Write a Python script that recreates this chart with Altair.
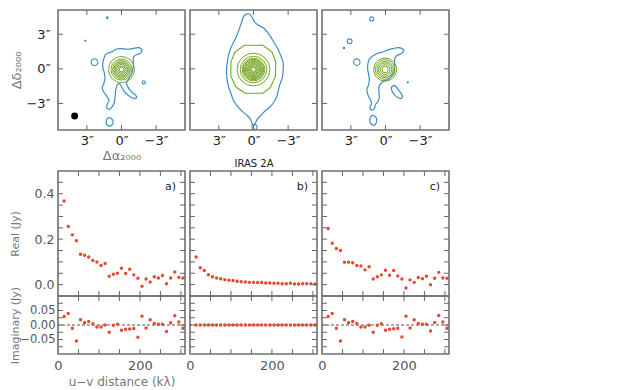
import altair as alt
import pandas as pd

# ---------------- colours / fonts ----------------
BLUE = "#3a8dc8"
GREEN = "#74a422"
RED = "#e24a33"
FRAME = "#707070"
TICK = "#666666"
FONT = "DejaVu Sans"

# ---------------- top row: maps (offsets in arcsec: dRA, dDec) ----------------
A_OUTLINE = [(1.61, 0.53), (1.37, 1.26), (0.79, 1.49), (0.50, 1.70), (0.06, 1.75), (-0.53, 1.70),
             (-0.96, 1.75), (-1.40, 1.84), (-1.70, 1.75), (-1.70, 1.40), (-1.40, 1.26), (-1.11, 1.11),
             (-1.02, 0.82), (-1.02, 0.23), (-0.91, -0.35), (-0.67, -0.79), (-0.44, -1.17), (-0.53, -1.52),
             (-0.82, -1.96), (-1.20, -2.25), (-1.32, -2.46), (-1.11, -2.57), (-0.82, -2.46), (-0.53, -2.25),
             (-0.23, -1.96), (-0.03, -1.58), (0.15, -1.29), (0.35, -1.37), (0.50, -1.81), (0.56, -2.46),
             (0.64, -2.98), (0.85, -3.33), (1.08, -3.51), (1.29, -3.36), (1.23, -3.07), (1.08, -2.75),
             (1.23, -2.46), (1.43, -2.16), (1.61, -1.87), (1.67, -1.58), (1.52, -1.23), (1.43, -0.79),
             (1.49, -0.35), (1.61, 0.09)]
A_BLOB = [(1.02, -4.24), (0.79, -4.39), (0.73, -4.65), (0.88, -4.91), (1.14, -4.94), (1.32, -4.74),
          (1.29, -4.42), (1.17, -4.27)]
A_SPOTS = [(2.34, 0.58, 0.29), (-1.93, -1.17, 0.14), (1.23, 4.42, 0.08), (3.13, 2.43, 0.05)]
A_BEAM = [(4.06, -4.09, 0.30)]
A_RING_CENTER = (0.0, -0.06)
A_RING_RADII = [1.13, 0.91, 0.77, 0.66, 0.56, 0.44, 0.32, 0.20]

B_OUTLINE = [(0.85, 4.56), (0.56, 4.77), (0.26, 4.68), (0.06, 4.33), (-0.15, 3.98), (-0.53, 3.74),
             (-0.96, 3.45), (-1.40, 2.92), (-1.78, 2.28), (-2.13, 1.70), (-2.37, 1.11), (-2.57, 0.53),
             (-2.57, -0.20), (-2.49, -0.79), (-2.28, -1.37), (-2.13, -1.96), (-1.99, -2.46), (-1.70, -2.98),
             (-1.40, -3.33), (-1.02, -3.63), (-0.67, -4.01), (-0.38, -4.30), (-0.18, -4.65), (-0.03, -4.88),
             (0.15, -4.68), (0.26, -4.39), (0.50, -4.09), (0.94, -3.71), (1.37, -3.27), (1.73, -2.75),
             (1.96, -2.11), (2.19, -1.46), (2.31, -0.79), (2.34, -0.06), (2.25, 0.67), (2.11, 1.40),
             (1.81, 2.13), (1.52, 2.72), (1.29, 3.30), (1.08, 3.89)]
B_SPOTS = [(-0.09, -5.03, 0.22)]
B_OCTAGON = [(0.79, 2.05), (-0.82, 2.05), (-1.61, 1.46), (-1.93, 0.58), (-1.90, -0.64), (-1.49, -1.58),
             (-0.82, -2.11), (0.73, -2.11), (1.52, -1.58), (1.96, -0.64), (1.96, 0.58), (1.61, 1.46)]
B_RING_CENTER = (0.0, -0.06)
B_RING_RADII = [1.42, 1.15, 0.98, 0.88, 0.79, 0.70, 0.61, 0.52, 0.43, 0.34, 0.25, 0.16]

C_OUTLINE = [(1.40, 0.82), (1.11, 1.11), (0.67, 1.35), (0.23, 1.46), (-0.20, 1.64), (-0.64, 1.75),
             (-1.08, 1.84), (-1.46, 1.75), (-1.58, 1.55), (-1.37, 1.32), (-0.94, 1.11), (-0.79, 0.82),
             (-0.79, 0.23), (-0.70, -0.35), (-0.50, -0.64), (-0.20, -0.94), (0.23, -1.11), (0.53, -1.46),
             (0.58, -1.96), (0.53, -2.46), (0.67, -2.84), (0.88, -3.13), (0.96, -3.42), (1.20, -3.57),
             (1.35, -3.33), (1.20, -2.98), (1.35, -2.63), (1.52, -2.25), (1.61, -1.81), (1.46, -1.37),
             (1.40, -0.94), (1.46, -0.50), (1.55, 0.00), (1.52, 0.47)]
C_BLOB_1 = [(-0.53, -1.58), (-0.79, -1.46), (-1.08, -1.75), (-1.37, -2.16), (-1.46, -2.46), (-1.23, -2.57),
            (-0.88, -2.34), (-0.58, -1.96)]
C_BLOB_2 = [(1.05, -4.04), (0.82, -4.21), (0.76, -4.50), (0.88, -4.82), (1.11, -4.88), (1.32, -4.68),
            (1.35, -4.33), (1.23, -4.09)]
C_SPOTS = [(2.49, 0.58, 0.28), (3.10, 2.40, 0.20), (3.60, 1.81, 0.06), (1.20, 4.33, 0.17), (-1.93, -1.17, 0.05)]
C_RING_CENTER = (0.03, -0.06)
C_RING_RADII = [1.00, 0.85, 0.70, 0.57, 0.42, 0.28]

MAP_TICKS = [-3, 0, 3]

# ---------------- bottom rows: visibilities ----------------
UV_DIST = [15, 25, 35, 45, 55, 65, 75, 85, 95, 105, 115, 125, 135, 145, 155, 165, 175, 185, 195, 205,
           215, 225, 235, 245, 255, 265, 275, 285, 295, 305]
REAL_A = [0.368, 0.256, 0.219, 0.193, 0.134, 0.129, 0.122, 0.106, 0.100, 0.084, 0.093, 0.037, 0.046, 0.050,
          0.072, 0.049, 0.068, 0.043, 0.028, -0.007, 0.025, 0.012, 0.035, 0.029, 0.040, 0.004, 0.029, 0.056,
          0.032, 0.029]
IMAG_A = [0.029, 0.040, -0.011, -0.055, 0.018, 0.008, 0.012, 0.004, -0.007, -0.007, 0.000, -0.025, -0.001,
          0.003, -0.018, -0.015, -0.014, -0.012, -0.042, 0.030, -0.010, 0.018, 0.005, 0.003, 0.003, -0.022,
          0.008, 0.032, 0.010, -0.011]
REAL_B = [0.122, 0.074, 0.062, 0.044, 0.035, 0.029, 0.026, 0.022, 0.019, 0.018, 0.015, 0.013, 0.012, 0.010,
          0.010, 0.009, 0.009, 0.007, 0.007, 0.006, 0.006, 0.004, 0.004, 0.006, 0.003, 0.003, 0.004, 0.004,
          0.004, 0.003]
IMAG_B = [0.0, 0.0, 0.0, 0.0, 0.0, 0.0, 0.0, 0.0, 0.0, 0.0, 0.0, 0.0, 0.0, 0.0, 0.0, 0.0, 0.0, 0.0, 0.0, 0.0,
          0.0, 0.0, 0.0, 0.0, 0.0, 0.0, 0.0, 0.0, 0.0, 0.0]
REAL_C = [0.247, 0.182, 0.159, 0.150, 0.099, 0.099, 0.096, 0.084, 0.082, 0.065, 0.079, 0.025, 0.035, 0.043,
          0.063, 0.041, 0.062, 0.038, 0.025, -0.015, 0.021, 0.010, 0.031, 0.026, 0.037, 0.000, 0.028, 0.054,
          0.029, 0.028]
IMAG_C = [0.029, 0.040, -0.011, -0.055, 0.018, 0.008, 0.012, 0.005, -0.007, -0.007, -0.001, -0.025, -0.001,
          0.004, -0.018, -0.015, -0.013, -0.011, -0.041, 0.030, -0.010, 0.018, 0.005, 0.003, 0.003, -0.021,
          0.009, 0.033, 0.010, -0.011]
UV_TICKS = [50, 100, 150, 200, 250, 300]
UV_LABELS = [0, 200]
REAL_TICKS = [0.0, 0.05, 0.1, 0.15, 0.2, 0.25, 0.3, 0.35, 0.4, 0.45]
REAL_LABELS = [0.0, 0.2, 0.4]
IMAG_TICKS = [-0.075, -0.05, -0.025, 0.0, 0.025, 0.05, 0.075]
IMAG_LABELS = [-0.05, 0.0, 0.05]
PANEL_LABELS = ["a)", "b)", "c)"]

# ---------------- layout constants ----------------
W = 127
MAP_H = 120
REAL_H = 125
IMAG_H = 58
TL = 5  # inward tick length
K = W / 11.0  # px per arcsec on the map x scale
MAP_X = alt.Scale(domain=[-5.5, 5.5], reverse=True, nice=False, zero=False)
MAP_Y = alt.Scale(domain=[-5.3, 5.1], nice=False, zero=False)
SIZE = alt.Scale(type="pow", exponent=2, domain=[0, 3], range=[0, (2 * 3 * K) ** 2])
UV_X = alt.Scale(domain=[0, 310], nice=False, zero=False)
REAL_Y = alt.Scale(domain=[-0.05, 0.5], nice=False, zero=False)
IMAG_Y = alt.Scale(domain=[-0.1, 0.1], nice=False, zero=False)

ARC = ("datum.value == 0 ? '0″' : (datum.value > 0 ? format(datum.value, 'd') + '″' : "
       "'−' + format(-datum.value, 'd') + '″')")
TITLE_X = -42.5
TITLE_FS = 11
MAP_TITLE_FS = 13
MAP_TITLE_X = TITLE_X - TITLE_FS / 2 + MAP_TITLE_FS / 2


def make_enc(scale, axis, title, chan):
    def enc(field):
        kw = dict(scale=scale, axis=axis)
        if axis is not None:
            kw["title"] = title
        return chan(field, **kw)
    return enc


def tick_layers(xvals, yvals, X, Y, h):
    xdf = pd.DataFrame({"t": xvals})
    ydf = pd.DataFrame({"t": yvals})
    out = []
    rx = alt.Chart(xdf).mark_rule(color=TICK, strokeWidth=1)
    out.append(rx.encode(x=X("t:Q"), y=alt.value(0), y2=alt.value(TL)))
    out.append(rx.encode(x=X("t:Q"), y=alt.value(h), y2=alt.value(h - TL)))
    ry = alt.Chart(ydf).mark_rule(color=TICK, strokeWidth=1)
    out.append(ry.encode(y=Y("t:Q"), x=alt.value(0), x2=alt.value(TL)))
    out.append(ry.encode(y=Y("t:Q"), x=alt.value(W), x2=alt.value(W - TL)))
    return out


def map_panel(outlines, spots, center, radii, poly=None, beam=None, show_y=False, xtitle=None,
              xtitle_kw=None):
    rows = []
    for cid, pts in enumerate(outlines):
        for i, (x, y) in enumerate(pts):
            rows.append({"cid": cid, "i": i, "x": x, "y": y})
    odf = pd.DataFrame(rows)
    xkw = dict(values=MAP_TICKS, labelExpr=ARC, labelFontSize=13, labelColor="#222",
               labelPadding=4, labelFlush=False)
    if xtitle_kw:
        xkw.update(xtitle_kw)
    X = make_enc(MAP_X, alt.Axis(**xkw), xtitle, alt.X)
    if show_y:
        yaxis = alt.Axis(values=MAP_TICKS, labelExpr=ARC, labelFontSize=13, labelColor="#222",
                         labelPadding=8, titleX=MAP_TITLE_X, titleBaseline="middle",
                         titleFontSize=MAP_TITLE_FS, titleColor="#777", labelFlush=False)
        Y = make_enc(MAP_Y, yaxis, "Δδ₂₀₀₀", alt.Y)
    else:
        Y = make_enc(MAP_Y, None, None, alt.Y)
    S = lambda f: alt.Size(f, scale=SIZE, legend=None)

    layers = [alt.Chart(odf).mark_line(color=BLUE, strokeWidth=1.2, interpolate="cardinal-closed").encode(
        x=X("x:Q"), y=Y("y:Q"), detail="cid:N", order="i:Q")]
    if poly is not None:
        pdf = pd.DataFrame({"i": list(range(len(poly))), "x": [p[0] for p in poly], "y": [p[1] for p in poly]})
        layers.append(alt.Chart(pdf).mark_line(color=GREEN, strokeWidth=1.1, interpolate="linear-closed").encode(
            x=X("x:Q"), y=Y("y:Q"), order="i:Q"))
    sdf = pd.DataFrame({"x": [s[0] for s in spots], "y": [s[1] for s in spots], "r": [s[2] for s in spots]})
    layers.append(alt.Chart(sdf).mark_point(shape="circle", filled=False, color=BLUE, strokeWidth=1.1,
                                            opacity=1).encode(x=X("x:Q"), y=Y("y:Q"), size=S("r:Q")))
    rdf = pd.DataFrame({"x": [center[0]] * len(radii), "y": [center[1]] * len(radii), "r": radii})
    layers.append(alt.Chart(rdf).mark_point(shape="circle", filled=False, color=GREEN, strokeWidth=1,
                                            opacity=1).encode(x=X("x:Q"), y=Y("y:Q"), size=S("r:Q")))
    cdf = pd.DataFrame({"x": [center[0]], "y": [center[1]]})
    layers.append(alt.Chart(cdf).mark_point(shape="circle", filled=True, color="white", size=6,
                                            opacity=1).encode(x=X("x:Q"), y=Y("y:Q")))
    if beam is not None:
        bdf = pd.DataFrame({"x": [b[0] for b in beam], "y": [b[1] for b in beam], "r": [b[2] for b in beam]})
        layers.append(alt.Chart(bdf).mark_point(shape="circle", filled=True, color="black", opacity=1).encode(
            x=X("x:Q"), y=Y("y:Q"), size=S("r:Q")))
    layers += tick_layers(MAP_TICKS, MAP_TICKS, X, Y, MAP_H)
    return alt.layer(*layers).properties(width=W, height=MAP_H)


def vis_panel(vals, ys, yticks, h, label=None, yaxis=None, ytitle=None, xaxis=None, xtitle=None, zero=False):
    df = pd.DataFrame({"uv": UV_DIST, "v": vals})
    X = make_enc(UV_X, xaxis, xtitle, alt.X)
    Y = make_enc(ys, yaxis, ytitle, alt.Y)
    layers = []
    if zero:
        zdf = pd.DataFrame({"z": [0.0]})
        layers.append(alt.Chart(zdf).mark_rule(color="#555", strokeWidth=1, strokeDash=[3, 2]).encode(
            y=Y("z:Q")))
    layers.append(alt.Chart(df).mark_circle(color=RED, size=12, opacity=1).encode(x=X("uv:Q"), y=Y("v:Q")))
    if label is not None:
        ldf = pd.DataFrame({"lab": [label]})
        layers.append(alt.Chart(ldf).mark_text(align="right", baseline="middle", fontSize=11, font=FONT,
                                               color="#222").encode(
            text="lab:N", x=alt.value(W - 9), y=alt.value(16)))
    layers += tick_layers(UV_TICKS, yticks, X, Y, h)
    return alt.layer(*layers).properties(width=W, height=h)


pa = map_panel([A_OUTLINE, A_BLOB], A_SPOTS, A_RING_CENTER, A_RING_RADII, beam=A_BEAM, show_y=True,
               xtitle="Δα₂₀₀₀",
               xtitle_kw=dict(titleY=25, titleBaseline="middle", titleFontSize=13, titleColor="#777"))
pb = map_panel([B_OUTLINE], B_SPOTS, B_RING_CENTER, B_RING_RADII, poly=B_OCTAGON,
               xtitle="IRAS 2A",
               xtitle_kw=dict(titleY=33, titleBaseline="middle", titleFontSize=10, titleColor="#222"))
pc = map_panel([C_OUTLINE, C_BLOB_1, C_BLOB_2], C_SPOTS, C_RING_CENTER, C_RING_RADII, xtitle=None)

real_axis = alt.Axis(values=REAL_LABELS, format=".1f", labelFontSize=12.5, labelColor="#555", labelPadding=4,
                     titleX=TITLE_X, titleBaseline="middle", titleFontSize=TITLE_FS, titleColor="#777",
                     labelFlush=False)
imag_axis = alt.Axis(values=IMAG_LABELS, format=".2f", labelFontSize=11.5, labelColor="#555", labelPadding=3,
                     titleX=TITLE_X, titleBaseline="middle", titleFontSize=TITLE_FS, titleColor="#777",
                     labelFlush=False)
uv_axis_a = alt.Axis(values=UV_LABELS, format="d", labelFontSize=13, labelColor="#555", labelPadding=5,
                     titleY=27, titleBaseline="middle", titleFontSize=12, titleColor="#777", labelFlush=False)
uv_axis = alt.Axis(values=UV_LABELS, format="d", labelFontSize=13, labelColor="#555", labelPadding=5,
                   labelFlush=False)

ra = vis_panel(REAL_A, REAL_Y, REAL_TICKS, REAL_H, label=PANEL_LABELS[0], yaxis=real_axis, ytitle="Real (Jy)")
rb = vis_panel(REAL_B, REAL_Y, REAL_TICKS, REAL_H, label=PANEL_LABELS[1])
rc = vis_panel(REAL_C, REAL_Y, REAL_TICKS, REAL_H, label=PANEL_LABELS[2])
ia = vis_panel(IMAG_A, IMAG_Y, IMAG_TICKS, IMAG_H, yaxis=imag_axis, ytitle="Imaginary (Jy)",
               xaxis=uv_axis_a, xtitle="u−v distance (kλ)", zero=True)
ib = vis_panel(IMAG_B, IMAG_Y, IMAG_TICKS, IMAG_H, xaxis=uv_axis, xtitle=None, zero=True)
ic = vis_panel(IMAG_C, IMAG_Y, IMAG_TICKS, IMAG_H, xaxis=uv_axis, xtitle=None, zero=True)

top = alt.hconcat(pa, pb, pc, spacing=5, bounds="flush")
bottom = alt.concat(ra, rb, rc, ia, ib, ic, columns=3, spacing={"row": 0, "column": 5}, bounds="flush")

chart = (
    alt.vconcat(top, bottom, spacing=0)
    .properties(padding={"left": 0, "top": 0, "right": 5, "bottom": 0}, background="white")
    .configure(font=FONT)
    .configure_view(stroke=FRAME, strokeWidth=1.6)
    .configure_axis(domain=False, ticks=False, grid=False, labelFont=FONT, titleFont=FONT,
                    titleFontWeight="normal")
)

chart.save("out.html", embed_options={"renderer": "svg", "actions": False})
